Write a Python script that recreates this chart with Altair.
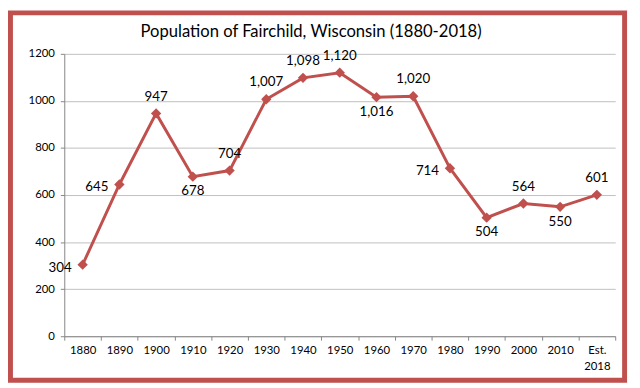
import altair as alt
import pandas as pd

years = ["1880", "1890", "1900", "1910", "1920", "1930", "1940", "1950",
         "1960", "1970", "1980", "1990", "2000", "2010", "Est. 2018"]
population = [304, 645, 947, 678, 704, 1007, 1098, 1120, 1016, 1020,
              714, 504, 564, 550, 601]
y_ticks = [0, 200, 400, 600, 800, 1000, 1200]
title_text = "Population of Fairchild, Wisconsin (1880-2018)"

labels_above = ["1900", "1920", "1930", "1940", "1950", "1970", "2000", "Est. 2018"]
labels_below = ["1910", "1960", "1990", "2010"]
labels_left = ["1880", "1890", "1980"]

df = pd.DataFrame({"year": years, "pop": population})

RED = "#C0504D"
FONT = "Lato"

x = alt.X(
    "year:N", sort=years,
    scale=alt.Scale(type="band", paddingInner=0, paddingOuter=0),
    axis=alt.Axis(title=None, labelAngle=0, tickBand="extent", grid=False,
                  labelExpr="isValid(datum.value) ? split(datum.value, ' ') : ''",
                  labelLineHeight=16,
                  labelBaseline="top", labelPadding=5, tickSize=4,
                  labelFont=FONT, labelFontSize=11.5, labelColor="#000",
                  domainColor="#868686", tickColor="#868686"),
)
y = alt.Y(
    "pop:Q",
    scale=alt.Scale(domain=[0, 1200], nice=False),
    axis=alt.Axis(title=None, values=y_ticks, format="d", tickSize=4,
                  labelPadding=6, labelFont=FONT, labelFontSize=11.5,
                  labelColor="#000", gridColor="#BFBFBF", domainColor="#868686",
                  tickColor="#868686"),
)

base = alt.Chart(df).encode(x=x, y=y)

line = base.mark_line(color=RED, strokeWidth=3)
pts = base.mark_point(shape="diamond", filled=True, size=110, color=RED, opacity=1)

txt_style = dict(font=FONT, fontSize=13.5, color="#000")
above = base.transform_filter(
    alt.FieldOneOfPredicate(field="year", oneOf=labels_above)
).mark_text(dy=-17, **txt_style).encode(text=alt.Text("pop:Q", format=","))
below = base.transform_filter(
    alt.FieldOneOfPredicate(field="year", oneOf=labels_below)
).mark_text(dy=15, **txt_style).encode(text=alt.Text("pop:Q", format=","))
left = base.transform_filter(
    alt.FieldOneOfPredicate(field="year", oneOf=labels_left)
).mark_text(dx=-11, dy=3, align="right", **txt_style).encode(text=alt.Text("pop:Q", format=","))

title = alt.Chart(pd.DataFrame({"t": [title_text]})).mark_text(
    font=FONT, fontSize=16.8, color="#000", baseline="middle", align="center"
).encode(text="t:N", x=alt.value(250), y=alt.value(-22))

frame = alt.Chart(pd.DataFrame({"a": [0]})).mark_rect(
    fillOpacity=0, stroke=RED, strokeWidth=5
).encode(x=alt.value(-54.5), x2=alt.value(567.5), y=alt.value(-41.5), y2=alt.value(330.5))

chart = alt.layer(line, pts, above, below, left, title, frame).properties(
    width=558, height=286,
    padding={"left": 57, "top": 44, "right": 17, "bottom": 50},
    autosize=alt.AutoSizeParams(type="none"),
    background="white",
).configure_view(stroke=None)

chart.save("out.html", embed_options={"renderer": "svg", "actions": False})
